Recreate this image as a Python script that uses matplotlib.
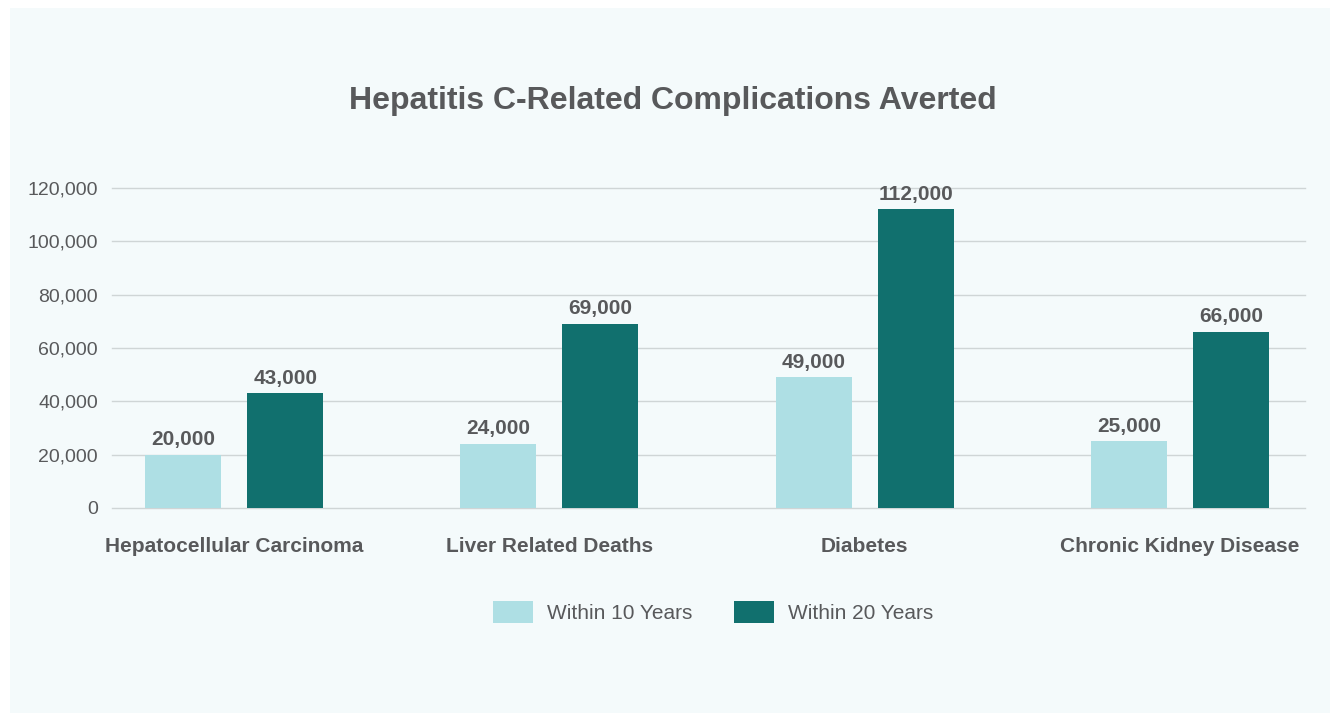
import matplotlib.pyplot as plt
import numpy as np
from matplotlib.patches import Rectangle
from matplotlib.ticker import FuncFormatter

# Data
categories = [
    "Hepatocellular Carcinoma",
    "Liver Related Deaths",
    "Diabetes",
    "Chronic Kidney Disease",
]
within_10 = [20000, 24000, 49000, 25000]
within_20 = [43000, 69000, 112000, 66000]
series_names = ["Within 10 Years", "Within 20 Years"]

light = "#aedfe4"
dark = "#11706e"
text_color = "#58595b"
plt.rcParams["font.family"] = ["Liberation Sans", "DejaVu Sans"]

W, H = 1338, 721
fig = plt.figure(figsize=(W / 100, H / 100), dpi=100, facecolor="white")

# light panel behind everything
fig.patches.append(Rectangle((10 / W, 8 / H), 1320 / W, 705 / H,
                             transform=fig.transFigure, facecolor="#f4fafb",
                             edgecolor="none", zorder=-10))

ax = fig.add_axes([112 / W, 1 - 508 / H, (1305 - 112) / W, (508 - 188) / H])
ax.set_facecolor("none")

x = np.arange(len(categories))
width = 0.241
offset = 0.162
b1 = ax.bar(x - offset, within_10, width, color=light, label=series_names[0], zorder=3)
b2 = ax.bar(x + offset, within_20, width, color=dark, label=series_names[1], zorder=3)

for bars in (b1, b2):
    for rect in bars:
        h = rect.get_height()
        ax.annotate(f"{h:,.0f}", (rect.get_x() + rect.get_width() / 2, h),
                    xytext=(0, 4), textcoords="offset points",
                    ha="center", va="bottom", fontsize=15, fontweight="bold",
                    color=text_color)

ax.set_xlim(-0.387, 3.396)
ax.set_ylim(0, 120000)
ax.set_yticks(np.arange(0, 120001, 20000))
ax.yaxis.set_major_formatter(FuncFormatter(lambda v, p: f"{v:,.0f}"))
ax.set_xticks(x)
ax.set_xticklabels(categories, fontsize=15, fontweight="bold", color=text_color)
ax.tick_params(axis="x", length=0, pad=21)
ax.tick_params(axis="y", length=0, pad=10, labelsize=14, labelcolor=text_color)
ax.grid(axis="y", color="#cfd5d6", linewidth=1, zorder=0)
for s in ax.spines.values():
    s.set_visible(False)
for line in ax.get_ygridlines():
    line.set_clip_on(False)

fig.text(673 / W, 1 - 101 / H, "Hepatitis C-Related Complications Averted",
         ha="center", va="center", fontsize=23, fontweight="bold", color=text_color)

fig.legend(handles=[b1, b2], labels=series_names, loc="center",
           bbox_to_anchor=(713 / W, 1 - 612 / H), ncol=2, frameon=False,
           fontsize=15, handlelength=1.92, handleheight=1.3,
           handletextpad=0.67, columnspacing=1.97, labelcolor=text_color)

fig.savefig("out.png", dpi=100, facecolor=fig.get_facecolor())
